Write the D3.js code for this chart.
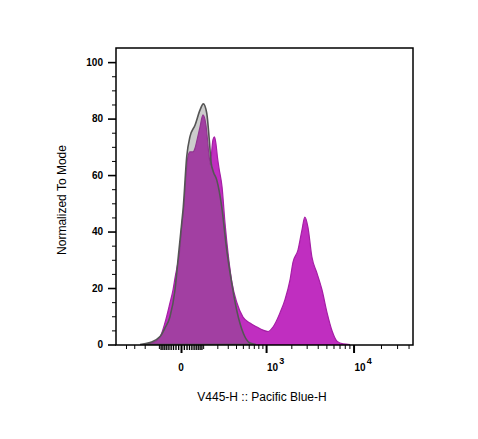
<!DOCTYPE html>
<html><head><meta charset="utf-8">
<script src="https://cdn.jsdelivr.net/npm/d3@7"></script>
<style>body{margin:0;background:#fff} text{font-family:"Liberation Sans",Arial,sans-serif}</style>
</head><body>
<svg id="c" width="478" height="439"></svg>
<script>
// Sample (stained) histogram: fluorescence value, % of mode
const sampleX = [-197,-158,-137,-93,-67,-43,-30,-22,-10.5,-7,3.4,10.5,14,18,26,34,47,57,66.5,82,99,117,124,137,147,151,158,166,177,189,202,215,242,271,308,349,413,502,624,767,915,1057,1215,1473,1683,1929,2093,2390,2650,2860,3100,3437,3920,4470,5090,5790,6600,7670,9150];
const sampleY = [0,0.4,0.7,2.7,7.6,14.7,19.3,23.5,29.2,31.1,43,49.4,54.7,60,66.7,68.2,68.2,69.6,72.4,77,81.3,77.7,74.2,67.1,63.6,65.3,69.6,72.6,73.5,71,66,62.3,55.8,43,31,21.8,14.7,9.7,7.6,6.2,5.1,4.6,6.2,11.2,15.8,22.8,29.2,33.5,40.5,45.1,41.6,31,25.3,19.3,11.2,4.8,1.1,0.2,0];
// Control histogram
const controlX = [-242,-158,-93,-67,-43,-22,-9.4,2.4,8,20.7,34,57,82,101,122,139,151,168,195,239,289,345,409,507,624,745];
const controlY = [0,0.7,2.8,5.8,9.8,19.3,31.1,43,48.8,66.5,73.6,77.7,83,85.2,81.9,72.4,64.7,61.2,58.3,48.8,33.5,21.8,12.2,4.0,0.5,0];

const yMajor = [0,20,40,60,80,100];
const yMinor = [5,10,15,25,30,35,45,50,55,65,70,75,85,90,95];
const xMajor = [0,1000,10000];
const xMajorLabels = ["0","10|3","10|4"];
const xNear0 = [-90,-80,-70,-60,-50,-40,-30,-20,-10,10,20,30,40,50,60,70,80,90];
const xMinor = [-400,-300,-200,-100,100,200,300,400,500,600,700,800,900,2000,3000,4000,5000,6000,7000,8000,9000,20000,30000,40000];

const L=116, R=413, T=48, B=345;
const svg = d3.select('#c');
const x = d3.scaleSymlog().constant(135).domain([-552, 44740]).range([L, R]);
const y = d3.scaleLinear().domain([0,105]).range([344.5, T]);

svg.append('clipPath').attr('id','clip').append('rect').attr('x',L).attr('y',T).attr('width',R-L).attr('height',B-T);
const g = svg.append('g').attr('clip-path','url(#clip)');

const area = d3.area().x(d=>x(d[0])).y0(y(0)).y1(d=>y(d[1])).curve(d3.curveMonotoneX);
const sample = sampleX.map((v,i)=>[v,sampleY[i]]);
const control = controlX.map((v,i)=>[v,controlY[i]]);

g.append('path').datum(sample).attr('d',area).attr('fill','#c02ec0').attr('stroke','#a51fa5').attr('stroke-width',1.2);
g.append('path').datum(control).attr('d',area).attr('fill','rgba(100,100,100,0.33)').attr('stroke','#555').attr('stroke-width',1.6);

// Frame
svg.append('rect').attr('x',L).attr('y',T).attr('width',R-L).attr('height',B-T).attr('fill','none').attr('stroke','#000').attr('stroke-width',1.5);

// Y axis
const ya = svg.append('g').attr('transform',`translate(${L},0)`).call(d3.axisLeft(y).tickValues(yMajor).tickSize(8).tickPadding(5));
ya.select('.domain').remove();
ya.selectAll('line').attr('stroke','#000').attr('stroke-width',1.6);
ya.selectAll('text').attr('font-size',10).attr('font-weight','bold').attr('fill','#000').attr('font-family','"Liberation Sans",Arial,sans-serif');
const ym = svg.append('g').attr('transform',`translate(${L},0)`).call(d3.axisLeft(y).tickValues(yMinor).tickSize(4).tickFormat(''));
ym.select('.domain').remove();
ym.selectAll('line').attr('stroke','#000').attr('stroke-width',1);

// X axis
const xm = svg.append('g').attr('transform',`translate(0,${B})`).call(d3.axisBottom(x).tickValues(xMinor).tickSize(4).tickFormat(''));
xm.select('.domain').remove();
xm.selectAll('line').attr('stroke','#000').attr('stroke-width',1);
const xn = svg.append('g').attr('transform',`translate(0,${B})`).call(d3.axisBottom(x).tickValues(xNear0).tickSize(5).tickFormat(''));
xn.select('.domain').remove();
xn.selectAll('line').attr('stroke','#000').attr('stroke-width',1.4);
const xa = svg.append('g').attr('transform',`translate(0,${B})`).call(d3.axisBottom(x).tickValues(xMajor).tickSize(8).tickFormat(''));
xa.select('.domain').remove();
xa.selectAll('line').attr('stroke','#000').attr('stroke-width',2);

xMajor.forEach((v,i)=>{
  const parts = xMajorLabels[i].split('|');
  const t = svg.append('text').attr('y',371).attr('font-size',10).attr('font-weight','bold').attr('fill','#000');
  if(parts.length===1){ t.attr('x',x(v)).attr('text-anchor','middle').text(parts[0]); }
  else {
    t.attr('x',x(v)+1).attr('text-anchor','start');
    t.append('tspan').text(parts[0]);
    t.append('tspan').attr('dy',-7).attr('font-size',9).attr('dx',1).text(parts[1]);
  }
});

// Titles
svg.append('text').attr('x',262).attr('y',401).attr('text-anchor','middle').attr('font-size',12).attr('fill','#000').text('V445-H :: Pacific Blue-H');
svg.append('text').attr('transform','translate(66,200) rotate(-90)').attr('text-anchor','middle').attr('font-size',12).attr('fill','#000').text('Normalized To Mode');
</script>
</body></html>
